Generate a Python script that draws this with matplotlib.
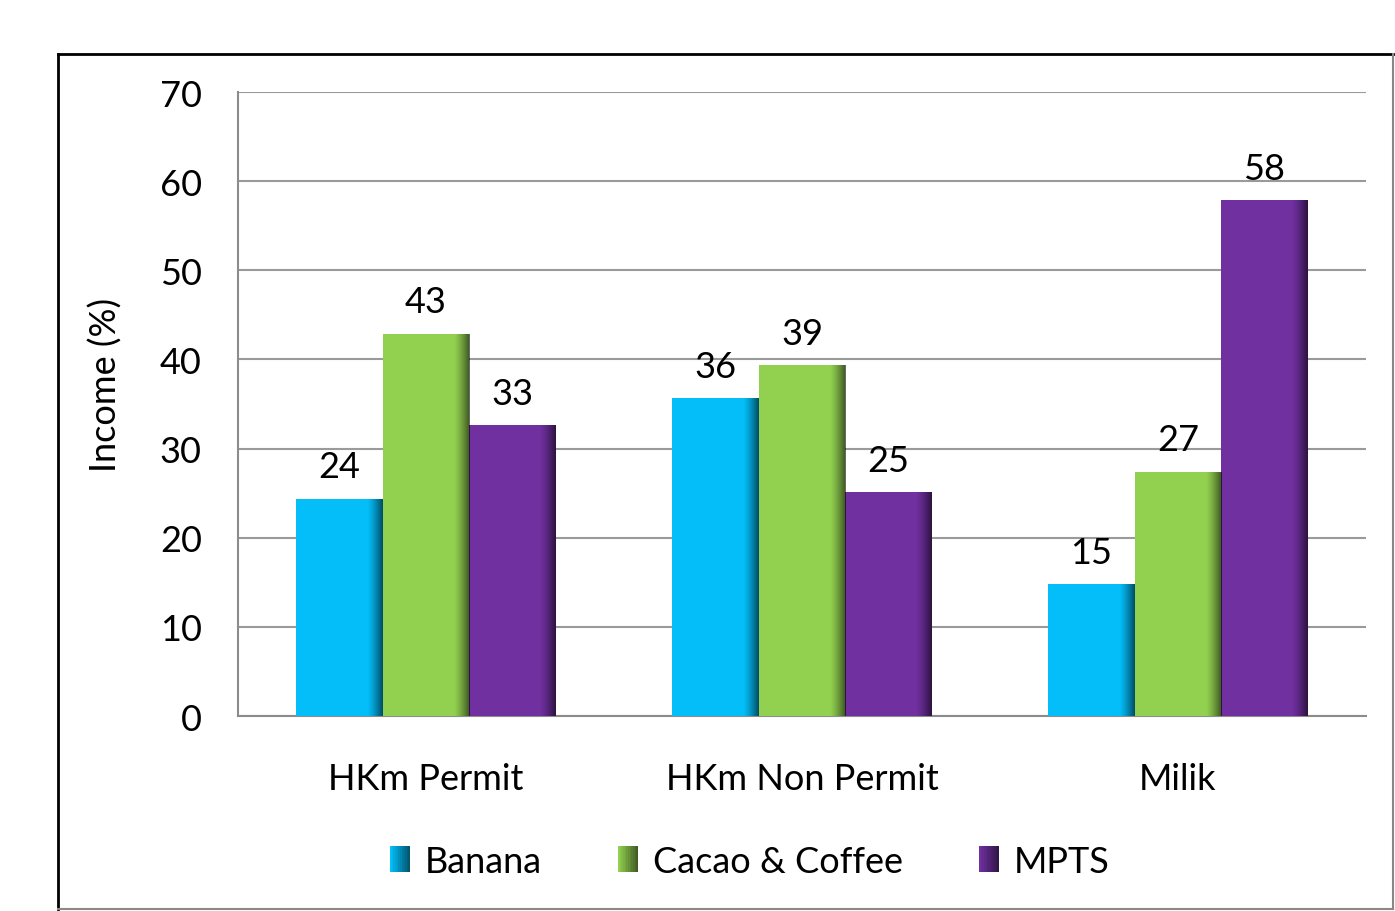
import matplotlib.pyplot as plt
import numpy as np
from matplotlib.patches import Patch, Rectangle
from matplotlib.lines import Line2D
from matplotlib.legend_handler import HandlerBase
from matplotlib.colors import to_rgb

plt.rcParams['font.family'] = ['Lato', 'DejaVu Sans']

categories = ['HKm Permit', 'HKm Non Permit', 'Milik']
series_names = ['Banana', 'Cacao & Coffee', 'MPTS']
banana = [24.4, 35.7, 14.8]
cacao_coffee = [42.9, 39.4, 27.4]
mpts = [32.6, 25.1, 57.9]
colors = ['#03BEF9', '#92D050', '#7030A0']


class GradientHandler(HandlerBase):
    # legend key shaded from the base colour to a darker tone on the right
    def create_artists(self, legend, orig_handle, xdescent, ydescent, width, height, fontsize, trans):
        base = np.array(to_rgb(orig_handle.get_facecolor()))
        n = 12
        arts = []
        for i in range(n):
            f = 1 - 0.55 * (i / (n - 1))
            arts.append(Rectangle((-xdescent + width * i / n, -ydescent), width / n + 0.3, height,
                                  facecolor=base * f, edgecolor='none', transform=trans))
        return arts


fig = plt.figure(figsize=(13.95, 9.12), dpi=100)
ax = fig.add_axes([0.1706, 0.2138, 0.8086, 0.6842])

x = np.arange(len(categories))
width = 0.23
offsets = [-width, 0, width]

# dark shading toward the right edge of each bar
shade = np.zeros((1, 200, 4))
ramp = np.clip((np.linspace(0, 1, 200) - 0.82) / 0.18, 0, 1)
shade[0, :, 3] = 0.6 * ramp ** 1.3

for vals, off, col in zip([banana, cacao_coffee, mpts], offsets, colors):
    bars = ax.bar(x + off, vals, width, color=col, edgecolor='none', zorder=3)
    for b, v in zip(bars, vals):
        im = ax.imshow(shade, extent=(b.get_x(), b.get_x() + b.get_width(), 0, b.get_height()),
                       aspect='auto', zorder=4, interpolation='bilinear')
        im.set_clip_path(b)
        ax.annotate(f'{v:.0f}', (b.get_x() + b.get_width() / 2, v), xytext=(0, 11),
                    textcoords='offset points', ha='center', va='bottom', fontsize=26)

ax.set_xlim(-0.5, 2.5)
ax.set_ylim(0, 70)
ax.set_yticks(range(0, 71, 10))
ax.set_xticks(x)
ax.set_xticklabels(categories)
ax.tick_params(axis='both', length=0, labelsize=26)
ax.tick_params(axis='y', pad=26)
ax.tick_params(axis='x', pad=33)
ax.grid(axis='y', color='#9A9A9A', linewidth=1.5, zorder=0)
ax.set_axisbelow(True)
for s in ['top', 'right']:
    ax.spines[s].set_visible(False)
for s in ['left', 'bottom']:
    ax.spines[s].set_color('#8C8C8C')
    ax.spines[s].set_linewidth(1.5)
ax.set_ylabel('Income (%)', fontsize=26)
ax.yaxis.set_label_coords(-0.102, 0.532)

handles = [Patch(facecolor=c, edgecolor='none') for c in colors]
fig.legend(handles, series_names, loc='center', bbox_to_anchor=(0.5376, 0.0548), ncol=3,
           frameon=False, fontsize=26, handlelength=0.55, handleheight=0.75,
           handletextpad=0.42, columnspacing=2.1,
           handler_map={Patch: GradientHandler()})

# outer chart border
fig.add_artist(Line2D([58 / 1395, 58 / 1395], [1 - 910 / 912, 1 - 55 / 912], transform=fig.transFigure,
                      color='black', linewidth=2))
fig.add_artist(Line2D([58 / 1395, 1393 / 1395], [1 - 55 / 912, 1 - 55 / 912], transform=fig.transFigure,
                      color='black', linewidth=2))
fig.add_artist(Line2D([1393 / 1395, 1393 / 1395], [1 - 910 / 912, 1 - 55 / 912], transform=fig.transFigure,
                      color='#888888', linewidth=1.5))
fig.add_artist(Line2D([58 / 1395, 1393 / 1395], [1 - 910 / 912, 1 - 910 / 912], transform=fig.transFigure,
                      color='#888888', linewidth=1.5))

fig.savefig('out.png', dpi=100)
